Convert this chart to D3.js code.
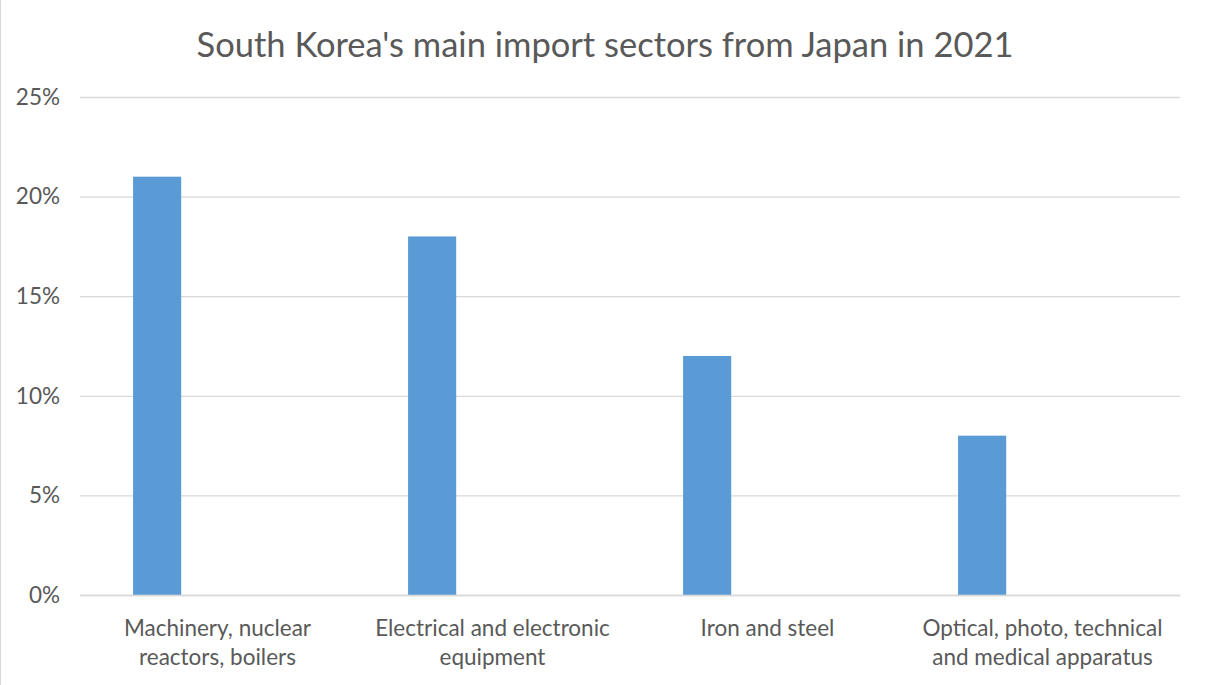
<!DOCTYPE html>
<html>
<head>
<meta charset="utf-8">
<script src="https://cdn.jsdelivr.net/npm/d3@7"></script>
<style>
  html, body { margin: 0; padding: 0; background: #fff; }
  svg { display: block; }
</style>
</head>
<body>
<svg id="chart" width="1208" height="685"></svg>
<script>
// Import sectors and their share of South Korea's imports from Japan, 2021
const categories = [
  ["Machinery, nuclear", "reactors, boilers"],
  ["Electrical and electronic", "equipment"],
  ["Iron and steel"],
  ["Optical, photo, technical", "and medical apparatus"]
];
const shares = [0.21, 0.18, 0.12, 0.08];
const yTicks = [0, 0.05, 0.10, 0.15, 0.20, 0.25];
const title = "South Korea's main import sectors from Japan in 2021";

const W = 1208, H = 685;
const margin = { left: 80, right: 28, top: 97, bottom: 90 };
const font = "Lato, 'Open Sans', sans-serif";
const textColor = "#595959";

const svg = d3.select("#chart");
svg.append("rect").attr("width", W).attr("height", H).attr("fill", "#fff");
svg.append("line").attr("x1", 0.5).attr("x2", 0.5).attr("y1", 0).attr("y2", H)
  .attr("stroke", "#d9d9d9");

const keys = categories.map((c, i) => i);
const x = d3.scaleBand().domain(keys).range([margin.left, W - margin.right]).padding(0);
const y = d3.scaleLinear().domain([0, 0.25]).range([H - margin.bottom, margin.top]);

// Title
svg.append("text")
  .attr("x", W / 2 + 1).attr("y", 57)
  .attr("text-anchor", "middle")
  .attr("font-family", font).attr("font-size", 34.5)
  .attr("fill", textColor)
  .text(title);

// Horizontal gridlines and percentage labels
const yAxis = d3.axisLeft(y).tickValues(yTicks)
  .tickFormat(d3.format(".0%"))
  .tickSize(-(W - margin.left - margin.right))
  .tickPadding(20);
const gy = svg.append("g").attr("transform", `translate(${margin.left},0)`).call(yAxis);
gy.select(".domain").remove();
gy.selectAll(".tick line").attr("stroke", "#d9d9d9").attr("stroke-width", 1.3);
gy.selectAll(".tick text")
  .attr("font-family", font).attr("font-size", 22.5).attr("fill", textColor);

// Bars: first slot of each category group
const barOffset = 0.193, barWidth = 0.175;
svg.append("g").selectAll("rect")
  .data(shares)
  .join("rect")
  .attr("x", (d, i) => x(i) + x.bandwidth() * barOffset)
  .attr("width", x.bandwidth() * barWidth)
  .attr("y", d => y(d))
  .attr("height", d => y(0) - y(d))
  .attr("fill", "#5b9bd5");

// Category axis
const xAxis = d3.axisBottom(x).tickSize(0).tickFormat("");
const gx = svg.append("g").attr("transform", `translate(0,${y(0)})`).call(xAxis);
gx.select(".domain").attr("stroke", "#d9d9d9").attr("stroke-width", 1.3);

const labels = svg.append("g");
categories.forEach((lines, i) => {
  const t = labels.append("text")
    .attr("x", x(i) + x.bandwidth() / 2)
    .attr("y", y(0) + 41)
    .attr("text-anchor", "middle")
    .attr("font-family", font).attr("font-size", 22.5)
    .attr("fill", textColor);
  lines.forEach((ln, j) => {
    t.append("tspan").attr("x", x(i) + x.bandwidth() / 2)
      .attr("dy", j === 0 ? 0 : 29).text(ln);
  });
});
</script>
</body>
</html>
